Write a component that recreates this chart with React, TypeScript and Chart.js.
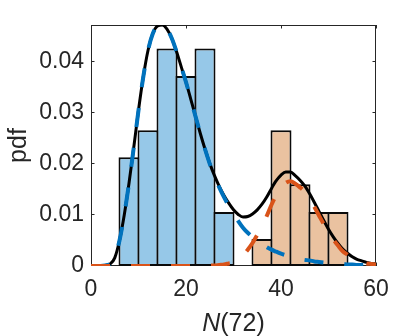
import React, { useEffect, useRef } from 'react';
import { Chart, registerables } from 'chart.js';

Chart.register(...registerables);

const xs = [
  0, 1, 2, 3, 4, 5, 6, 7, 8, 9, 10, 11, 12, 13, 14, 15, 16, 17, 18, 19, 20,
  21, 22, 23, 24, 25, 26, 27, 28, 29, 30, 31, 32, 33, 34, 35, 36, 37, 38, 39, 40,
  41, 42, 43, 44, 45, 46, 47, 48, 49, 50, 51, 52, 53, 54, 55, 56, 57, 58, 59, 60,
];

// total mixture pdf (black solid)
const mixturePdf = [
  0, 0, 0, 0.0001, 0.0004, 0.0016, 0.005, 0.01, 0.0162, 0.0232, 0.0305,
  0.037, 0.0422, 0.0455, 0.047, 0.0472, 0.0464, 0.0446, 0.042, 0.039, 0.036,
  0.0327, 0.0293, 0.026, 0.0229, 0.0201, 0.0177, 0.0156, 0.0138, 0.0123, 0.011,
  0.0101, 0.0096, 0.0097, 0.0102, 0.011, 0.0121, 0.0135, 0.0152, 0.0167, 0.0178,
  0.0184, 0.0184, 0.0177, 0.0168, 0.0157, 0.0142, 0.0125, 0.0107, 0.0089, 0.0072,
  0.0057, 0.0044, 0.0033, 0.0025, 0.0018, 0.0013, 0.001, 0.0007, 0.0005, 0.0004,
];

// component 1 (blue dashed)
const component1Pdf = [
  0, 0, 0, 0.0001, 0.0004, 0.0016, 0.005, 0.01, 0.0162, 0.0232, 0.0305,
  0.037, 0.0422, 0.0455, 0.047, 0.0472, 0.0464, 0.0446, 0.042, 0.039, 0.036,
  0.0327, 0.0293, 0.026, 0.0229, 0.02, 0.0176, 0.0154, 0.0135, 0.0118, 0.0103,
  0.0088, 0.0075, 0.0065, 0.0057, 0.0049, 0.0043, 0.0037, 0.0032, 0.0028, 0.0024,
  0.0021, 0.0018, 0.0016, 0.0014, 0.0012, 0.0011, 0.0009, 0.0008, 0.0007, 0.0006,
  0.0005, 0.0004, 0.0004, 0.0003, 0.0003, 0.0002, 0.0002, 0.0002, 0.0001, 0.0001,
];

// component 2 (orange dashed)
const component2Pdf = [
  0, 0, 0, 0, 0, 0, 0, 0, 0, 0, 0,
  0, 0, 0, 0, 0, 0, 0, 0, 0, 0,
  0, 0, 0, 0, 0.0001, 0.0001, 0.0002, 0.0003, 0.0005, 0.0007,
  0.0013, 0.0021, 0.0032, 0.0045, 0.0061, 0.0078, 0.0098, 0.012, 0.0139, 0.0154,
  0.0163, 0.0166, 0.0161, 0.0154, 0.0145, 0.0131, 0.0116, 0.0099, 0.0082, 0.0066,
  0.0052, 0.004, 0.0029, 0.0022, 0.0015, 0.0011, 0.0008, 0.0005, 0.0004, 0.0003,
];

// histogram bins (centres) and normalised heights
const blueBinCenters = [8, 12, 16, 20, 24, 28];
const blueBinHeights = [0.0213, 0.0266, 0.0426, 0.0372, 0.0426, 0.0106];
const orangeBinCenters = [36, 40, 44, 48, 52];
const orangeBinHeights = [0.0053, 0.0266, 0.016, 0.0106, 0.0106];

const xTicks = [0, 20, 40, 60];
const yTicks = [0, 0.01, 0.02, 0.03, 0.04];
const xLabelItalic = 'N';
const xLabelRest = '(72)';
const yLabel = 'pdf';

const AXIS = 'rgb(38,38,38)';
const FONT = '"Liberation Sans", Arial, Helvetica, sans-serif';

export default function App() {
  const ref = useRef<HTMLCanvasElement | null>(null);

  useEffect(() => {
    if (!ref.current) return;

    const framePlugin = {
      id: 'frame',
      beforeDatasetsDraw(chart: any) {
        const { ctx, chartArea: a } = chart;
        const xs_ = chart.scales.x;
        const ys_ = chart.scales.y;
        ctx.save();
        ctx.strokeStyle = AXIS;
        ctx.lineWidth = 1;
        ctx.strokeRect(a.left + 0.5, a.top + 0.5, a.right - a.left - 1, a.bottom - a.top - 1);
        const tl = 3.5;
        ctx.beginPath();
        xTicks.forEach((v) => {
          const p = Math.round(xs_.getPixelForValue(v)) + 0.5;
          ctx.moveTo(p, a.bottom);
          ctx.lineTo(p, a.bottom - tl);
          ctx.moveTo(p, a.top);
          ctx.lineTo(p, a.top + tl);
        });
        yTicks.forEach((v) => {
          const p = Math.round(ys_.getPixelForValue(v)) - 0.5;
          ctx.moveTo(a.left, p);
          ctx.lineTo(a.left + tl, p);
          ctx.moveTo(a.right, p);
          ctx.lineTo(a.right - tl, p);
        });
        ctx.stroke();
        ctx.restore();
      },
      afterDraw(chart: any) {
        const { ctx, chartArea: a } = chart;
        ctx.save();
        ctx.fillStyle = AXIS;
        // y label
        ctx.font = `25px ${FONT}`;
        ctx.translate(26, (a.top + a.bottom) / 2);
        ctx.rotate(-Math.PI / 2);
        ctx.textAlign = 'center';
        ctx.textBaseline = 'alphabetic';
        ctx.fillText(yLabel, 0, 0);
        ctx.setTransform(1, 0, 0, 1, 0, 0);
        // x label
        ctx.font = `italic 25px ${FONT}`;
        const w1 = ctx.measureText(xLabelItalic).width;
        ctx.font = `25px ${FONT}`;
        const w2 = ctx.measureText(xLabelRest).width;
        const cx = (a.left + a.right) / 2;
        const start = cx - (w1 + w2) / 2;
        ctx.textAlign = 'left';
        ctx.font = `italic 25px ${FONT}`;
        ctx.fillText(xLabelItalic, start, 331);
        ctx.font = `25px ${FONT}`;
        ctx.fillText(xLabelRest, start + w1, 331);
        ctx.restore();
      },
    };

    const barW = 1.105;
    const chart = new Chart(ref.current, {
      type: 'line',
      data: {
        datasets: [
          {
            type: 'line',
            label: 'component 2',
            data: xs.map((x, i) => ({ x, y: component2Pdf[i] })),
            borderColor: 'rgb(217,83,25)',
            borderWidth: 4,
            borderDash: [19, 21],
            borderCapStyle: 'butt',
            pointRadius: 0,
            cubicInterpolationMode: 'monotone',
            fill: false,
            order: 1,
          },
          {
            type: 'line',
            label: 'component 1',
            data: xs.map((x, i) => ({ x, y: component1Pdf[i] })),
            borderColor: 'rgb(0,114,189)',
            borderWidth: 4,
            borderDash: [19, 21],
            borderCapStyle: 'butt',
            pointRadius: 0,
            cubicInterpolationMode: 'monotone',
            fill: false,
            order: 2,
          },
          {
            type: 'line',
            label: 'mixture',
            data: xs.map((x, i) => ({ x, y: mixturePdf[i] })),
            borderColor: 'rgb(0,0,0)',
            borderWidth: 3,
            pointRadius: 0,
            cubicInterpolationMode: 'monotone',
            fill: false,
            order: 3,
          },
          {
            type: 'bar',
            label: 'hist 2',
            data: orangeBinCenters.map((x, i) => ({ x, y: orangeBinHeights[i] })) as any,
            backgroundColor: 'rgb(234,194,160)',
            borderColor: 'rgb(10,10,10)',
            borderWidth: 2,
            borderSkipped: false,
            barPercentage: barW,
            categoryPercentage: 1,
            grouped: false,
            order: 4,
          } as any,
          {
            type: 'bar',
            label: 'hist 1',
            data: blueBinCenters.map((x, i) => ({ x, y: blueBinHeights[i] })) as any,
            backgroundColor: 'rgb(150,200,232)',
            borderColor: 'rgb(10,10,10)',
            borderWidth: 2,
            borderSkipped: false,
            barPercentage: barW,
            categoryPercentage: 1,
            grouped: false,
            order: 5,
          } as any,
        ],
      },
      options: {
        responsive: false,
        animation: false,
        devicePixelRatio: 1,
        layout: { padding: { top: 25, right: 39, left: 0, bottom: 0 } },
        plugins: { legend: { display: false }, tooltip: { enabled: false } },
        scales: {
          x: {
            type: 'linear',
            min: 0,
            max: 60,
            offset: false,
            grid: { display: false, drawTicks: false },
            border: { display: false },
            afterBuildTicks: (s: any) => {
              s.ticks = xTicks.map((v) => ({ value: v }));
            },
            afterFit: (s: any) => {
              s.height = 70;
            },
            ticks: {
              padding: 10,
              color: AXIS,
              maxRotation: 0,
              font: { family: FONT, size: 23 },
              callback: (v: any) => String(v),
            },
          },
          y: {
            type: 'linear',
            min: 0,
            max: 0.0472,
            grid: { display: false, drawTicks: false },
            border: { display: false },
            afterBuildTicks: (s: any) => {
              s.ticks = yTicks.map((v) => ({ value: v }));
            },
            afterFit: (s: any) => {
              s.width = 91;
            },
            ticks: {
              padding: 7,
              color: AXIS,
              font: { family: FONT, size: 23 },
              callback: (v: any) => (Number(v) === 0 ? '0' : Number(v).toFixed(2)),
            },
          },
        },
      } as any,
      plugins: [framePlugin],
    });

    return () => chart.destroy();
  }, []);

  return (
    <div style={{ position: 'absolute', left: 0, top: 0, width: 415, height: 336, background: '#fff' }}>
      <canvas ref={ref} width={415} height={336} style={{ display: 'block' }} />
    </div>
  );
}
